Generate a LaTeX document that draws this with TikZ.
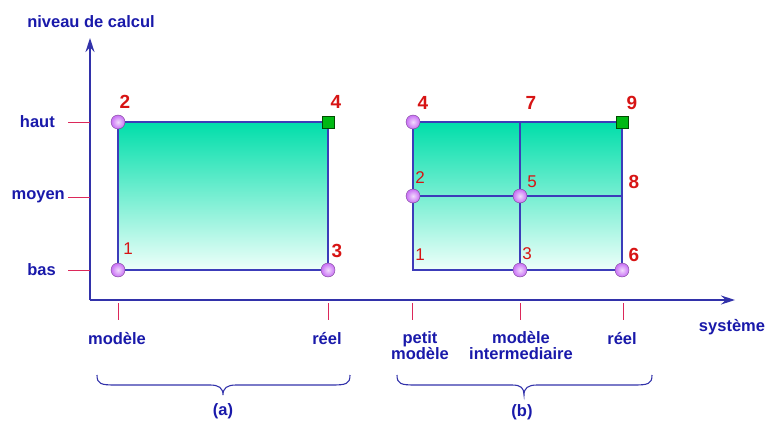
\documentclass[tikz,border=0pt]{standalone}
\usepackage{fontspec}
\setmainfont{Liberation Sans}
\usetikzlibrary{arrows.meta}
\definecolor{txtblue}{RGB}{25,25,170}
\definecolor{axblue}{RGB}{50,50,170}
\definecolor{edgeblue}{RGB}{60,60,185}
\definecolor{tickred}{RGB}{220,40,90}
\definecolor{numred}{RGB}{215,20,20}
\definecolor{topgreen}{RGB}{0,222,170}
\definecolor{botgreen}{RGB}{238,255,250}
\definecolor{ballpurple}{RGB}{200,110,245}
\definecolor{sqgreen}{RGB}{0,185,20}
\begin{document}
\begin{tikzpicture}[x=1pt,y=-1pt,
  axis/.style={draw=axblue,line width=1.3pt},
  tick/.style={draw=tickred,line width=1pt},
  edge/.style={draw=edgeblue,line width=1.3pt},
  lab/.style={text=txtblue,font=\fontsize{16.5}{17}\selectfont\bfseries,inner sep=0pt,align=center},
  bignum/.style={text=numred,font=\fontsize{19}{20}\selectfont\bfseries,inner sep=0pt},
  smallnum/.style={text=numred,font=\fontsize{17}{18}\selectfont,inner sep=0pt},
  ball/.style={circle,inner sep=0pt,minimum size=14pt,shading=radial,inner color=ballpurple!25!white,outer color=ballpurple,draw=ballpurple!60!black,line width=0.4pt},
  sq/.style={rectangle,inner sep=0pt,minimum size=12pt,fill=sqgreen,draw=green!30!black,line width=0.5pt},
  brace/.style={draw=axblue,line width=1.1pt}]
\useasboundingbox (0,0) rectangle (767,425);
% axes
\coordinate (O) at (90,300);
\coordinate (Ytip) at (90,38);
\coordinate (Xtip) at (735,300);
\draw[axis,-{Stealth[length=14pt,width=9pt]}] (O) -- (Ytip);
\draw[axis,-{Stealth[length=14pt,width=9pt]}] (O) -- (Xtip);
\node[lab] (ylab) at (91,22) {niveau de calcul};
\node[lab] (xlab) at (732,327) {système};
% y ticks
\foreach \n/\y/\t in {h/122/haut,m/197/moyen,b/270/bas}{
  \coordinate (yt\n) at (68,\y);
  \coordinate (ya\n) at (90,\y);
  \draw[tick] (yt\n) -- (ya\n);
}
\node[lab,anchor=east] (lhaut) at (55,122) {haut};
\node[lab,anchor=east] (lmoyen) at (65,197) {moyen};
\node[lab,anchor=east] (lbas) at (56,270) {bas};
% x ticks
\foreach \n/\x in {a/118,b/328,c/412,d/520,e/623}{
  \coordinate (xt\n) at (\x,303);
  \coordinate (xb\n) at (\x,320);
  \draw[tick] (xt\n) -- (xb\n);
}
\node[lab] (lmod) at (117,339) {modèle};
\node[lab] (lreel1) at (327,339) {réel};
\node[lab,anchor=north] (lpetit) at (420,331) {petit\\[-1pt]modèle};
\node[lab,anchor=north] (linter) at (521,331) {modèle\\[-1pt]intermediaire};
\node[lab] (lreel2) at (622,339) {réel};
% rectangle (a)
\shade[top color=topgreen,bottom color=botgreen] (118,122) rectangle (328,270);
\draw[edge] (118,122) rectangle (328,270);
\node[ball] (a2) at (118,122) {};
\node[ball] (a1) at (118,270) {};
\node[ball] (a3) at (328,270) {};
\node[sq] (a4) at (328,122) {};
\node[bignum] (na2) at (125,102) {2};
\node[smallnum] (na1) at (128,249) {1};
\node[bignum] (na3) at (337,251) {3};
\node[bignum] (na4) at (336,102) {4};
% rectangle (b)
\shade[top color=topgreen,bottom color=botgreen] (413,122) rectangle (622,270);
\coordinate (b1) at (413,270);
\coordinate (b7) at (520,122);
\coordinate (b8) at (622,196);
\draw[edge] (413,122) rectangle (622,270);
\draw[edge] (b7) -- (520,270);
\draw[edge] (413,196) -- (b8);
\node[ball] (b4) at (413,122) {};
\node[ball] (b2) at (413,196) {};
\node[ball] (b5) at (520,196) {};
\node[ball] (b3) at (520,270) {};
\node[ball] (b6) at (622,270) {};
\node[sq] (b9) at (622,122) {};
\node[bignum] (nb4) at (423,103) {4};
\node[bignum] (nb7) at (531,103) {7};
\node[bignum] (nb9) at (632,103) {9};
\node[smallnum] (nb2) at (420,178) {2};
\node[smallnum] (nb5) at (532,182) {5};
\node[bignum] (nb8) at (634,182) {8};
\node[smallnum] (nb1) at (420,255) {1};
\node[smallnum] (nb3) at (527,254) {3};
\node[bignum] (nb6) at (634,255) {6};
% braces
\coordinate (bra1) at (97,375);
\coordinate (bra2) at (350,375);
\draw[brace] (bra1) .. controls (97,384) and (101,385) .. (115,385) -- (210,385)
  .. controls (219,385) and (223,388) .. (223,395)
  .. controls (223,388) and (227,385) .. (236,385) -- (332,385)
  .. controls (346,385) and (350,384) .. (bra2);
\node[lab] (la) at (223,411) {(a)};
\coordinate (brb1) at (397,375);
\coordinate (brb2) at (652,375);
\draw[brace] (brb1) .. controls (397,384) and (401,385) .. (415,385) -- (512,385)
  .. controls (521,385) and (524,388) .. (524,395)
  .. controls (524,388) and (528,385) .. (537,385) -- (634,385)
  .. controls (648,385) and (652,384) .. (brb2);
\node[lab] (lb) at (522,412) {(b)};
\end{tikzpicture}
\end{document}
